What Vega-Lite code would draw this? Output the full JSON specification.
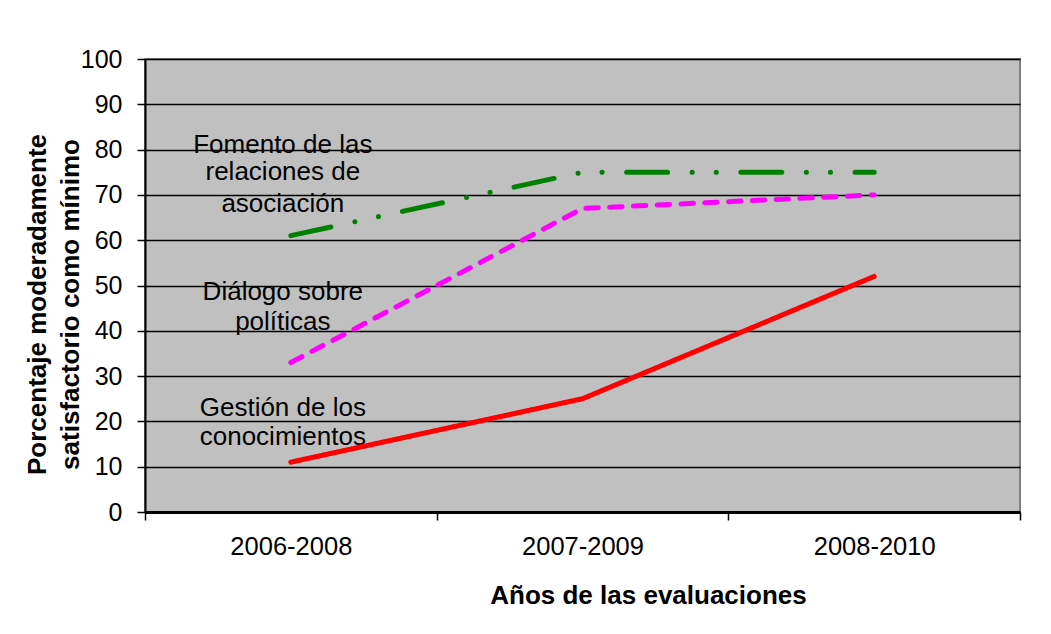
{
  "$schema": "https://vega.github.io/schema/vega-lite/v6.json",
  "width": 875,
  "height": 453,
  "autosize": {"type": "none"},
  "padding": {"left": 145, "top": 59, "right": 31, "bottom": 122},
  "background": "white",
  "config": {
    "font": "Liberation Sans",
    "view": {"fill": "#C0C0C0", "stroke": "#808080", "strokeWidth": 2}
  },
  "datasets": {
    "series": [
      {"period": "2006-2008", "series": "Fomento de las relaciones de asociación", "value": 61},
      {"period": "2007-2009", "series": "Fomento de las relaciones de asociación", "value": 75},
      {"period": "2008-2010", "series": "Fomento de las relaciones de asociación", "value": 75},
      {"period": "2006-2008", "series": "Diálogo sobre políticas", "value": 33},
      {"period": "2007-2009", "series": "Diálogo sobre políticas", "value": 67},
      {"period": "2008-2010", "series": "Diálogo sobre políticas", "value": 70},
      {"period": "2006-2008", "series": "Gestión de los conocimientos", "value": 11},
      {"period": "2007-2009", "series": "Gestión de los conocimientos", "value": 25},
      {"period": "2008-2010", "series": "Gestión de los conocimientos", "value": 52}
    ],
    "labels": [
      {"period": "2006-2008", "line": "Fomento de las", "y": 81},
      {"period": "2006-2008", "line": "relaciones de", "y": 75.1},
      {"period": "2006-2008", "line": "asociación", "y": 68},
      {"period": "2006-2008", "line": "Diálogo sobre", "y": 48.6},
      {"period": "2006-2008", "line": "políticas", "y": 41.9},
      {"period": "2006-2008", "line": "Gestión de los", "y": 23},
      {"period": "2006-2008", "line": "conocimientos", "y": 16.6}
    ]
  },
  "layer": [
    {
      "data": {"name": "labels"},
      "mark": {"type": "text", "fontSize": 26, "color": "black", "align": "center", "baseline": "middle", "dx": -8},
      "encoding": {
        "x": {"field": "period", "type": "ordinal", "scale": {"type": "band", "paddingInner": 0, "paddingOuter": 0, "domain": ["2006-2008", "2007-2009", "2008-2010"]},
          "axis": {
            "title": "Años de las evaluaciones",
            "titleFontSize": 26, "titleFontWeight": "bold", "titleColor": "black",
            "titleX": 503, "titleY": 91, "titleBaseline": "alphabetic", "titleAlign": "center", "titleAnchor": null,
            "labelFontSize": 25.5, "labelColor": "black", "labelAngle": 0, "labelPadding": 14,
            "tickBand": "extent", "tickSize": 8, "tickColor": "black", "tickWidth": 1.5,
            "domainColor": "black", "domainWidth": 3, "grid": false
          }
        },
        "y": {"field": "y", "type": "quantitative", "scale": {"domain": [0, 100]},
          "axis": {
            "title": ["Porcentaje moderadamente", "satisfactorio como mínimo"],
            "titleFontSize": 26, "titleFontWeight": "bold", "titleColor": "black",
            "titleAngle": -90, "titleX": -100, "titleY": 245, "titleBaseline": "alphabetic", "titleAlign": "center", "titleLineHeight": 33, "titleAnchor": null,
            "values": [0, 10, 20, 30, 40, 50, 60, 70, 80, 90, 100],
            "labelFontSize": 25, "labelColor": "black", "labelPadding": 15,
            "tickSize": 8, "tickColor": "black", "tickWidth": 1.5,
            "domainColor": "black", "domainWidth": 2,
            "grid": true, "gridColor": "black", "gridWidth": 1.5, "gridOpacity": 1
          }
        },
        "text": {"field": "line", "type": "nominal"}
      }
    },
    {
      "data": {"name": "series"},
      "mark": {"type": "line", "strokeWidth": 5, "strokeCap": "round", "strokeJoin": "round"},
      "encoding": {
        "x": {"field": "period", "type": "ordinal"},
        "y": {"field": "value", "type": "quantitative"},
        "color": {"field": "series", "type": "nominal",
          "scale": {"domain": ["Fomento de las relaciones de asociación", "Diálogo sobre políticas", "Gestión de los conocimientos"], "range": ["#008000", "#FF00FF", "#FF0000"]},
          "legend": null},
        "strokeDash": {"field": "series", "type": "nominal",
          "scale": {"domain": ["Fomento de las relaciones de asociación", "Diálogo sobre políticas", "Gestión de los conocimientos"], "range": [[41, 24.5, 0.1, 24, 0.1, 24.5], [12.5, 11.3], [1, 0]]},
          "legend": null}
      }
    }
  ]
}
